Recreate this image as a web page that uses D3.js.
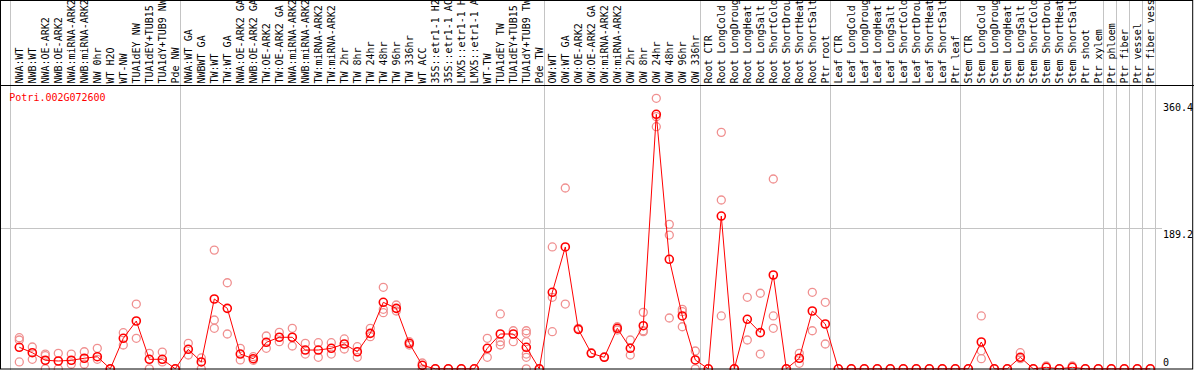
<!DOCTYPE html>
<html>
<head>
<meta charset="utf-8">
<script src="https://cdn.jsdelivr.net/npm/d3@7"></script>
<style>
    html, body { margin: 0; padding: 0; background: #fff; }
    svg { display: block; }
    text { font-family: 'DejaVu Sans Mono', monospace; font-size: 10px; }
</style>
</head>
<body>
<svg id="chart" width="1194" height="370"></svg>
<script>
'use strict';

var geneName = 'Potri.002G072600';

var categories = [
    'NWA:WT', 'NWB:WT', 'NWA:OE-ARK2', 'NWB:OE-ARK2', 'NWA:miRNA-ARK2', 'NWB:miRNA-ARK2',
    'NW 0hr', 'WT H2O', 'WT-NW', 'TUA1dEY NW', 'TUA1dEY+TUB15 NW', 'TUA1dY+TUB9 NW', 'Pde NW',
    'NWA:WT GA', 'NWBWT GA', 'TW:WT', 'TW:WT GA', 'NWA:OE-ARK2 GA', 'NWB:OE-ARK2 GA',
    'TW:OE-ARK2', 'TW:OE-ARK2 GA', 'NWA:miRNA-ARK2 GA', 'NWB:miRNA-ARK2 GA', 'TW:miRNA-ARK2',
    'TW:miRNA-ARK2 GA', 'TW 2hr', 'TW 8hr', 'TW 24hr', 'TW 48hr', 'TW 96hr', 'TW 336hr',
    'WT ACC', '35S::etr1-1 H2O', '35S::etr1-1 ACC', 'LMX5::etr1-1 H2O', 'LMX5::etr1-1 ACC',
    'WT-TW', 'TUA1dEY TW', 'TUA1dEY+TUB15 TW', 'TUA1dY+TUB9 TW', 'Pde TW',
    'OW:WT', 'OW:WT GA', 'OW:OE-ARK2', 'OW:OE-ARK2 GA', 'OW:miRNA-ARK2', 'OW:miRNA-ARK2 GA',
    'OW 2hr', 'OW 8hr', 'OW 24hr', 'OW 48hr', 'OW 96hr', 'OW 336hr',
    'Root CTR', 'Root LongCold', 'Root LongDrought', 'Root LongHeat', 'Root LongSalt',
    'Root ShortCold', 'Root ShortDrought', 'Root ShortHeat', 'Root ShortSalt', 'Ptr root',
    'Leaf CTR', 'Leaf LongCold', 'Leaf LongDrought', 'Leaf LongHeat', 'Leaf LongSalt',
    'Leaf ShortCold', 'Leaf ShortDrought', 'Leaf ShortHeat', 'Leaf ShortSalt', 'Ptr leaf',
    'Stem CTR', 'Stem LongCold', 'Stem LongDrought', 'Stem LongHeat', 'Stem LongSalt',
    'Stem ShortCold', 'Stem ShortDrought', 'Stem ShortHeat', 'Stem ShortSalt', 'Ptr shoot',
    'Ptr xylem', 'Ptr phloem', 'Ptr fiber', 'Ptr vessel', 'Ptr fiber vessel'
];

// last sample of each block, a grey separator follows it
var groupEnds = ['Pde NW', 'Pde TW', 'OW 336hr', 'Ptr root', 'Ptr leaf',
    'Ptr xylem', 'Ptr phloem', 'Ptr fiber', 'Ptr vessel', 'Ptr fiber vessel'];

var means = [
    29.0, 21.7, 11.5, 10.5, 11.5, 14.2, 16.3, 0, 41.1, 64.4, 12.8, 12.8, 0,
    26.3, 9.2, 94.1, 81.5, 19.9, 13.6, 35.7, 42.5, 42.5, 25.3, 25.3, 27.6, 33.4,
    23.0, 47.8, 89.6, 81.5, 34.4, 4.7, 0, 0, 0, 0, 27.6, 46.9, 46.9, 29.0, 0,
    103.1, 164.2, 53.2, 20.9, 15.5, 54.6, 27.6, 58.1, 343.0, 147.6, 71.2, 11.9,
    0, 205.9, 0, 66.7, 48.7, 126.4, 0, 14.2, 77.9, 60.4,
    0, 0, 0, 0, 0, 0, 0, 0, 0, 0,
    0, 36.1, 0, 0, 15.5, 0, 2.0, 0, 2.0, 0, 0,
    0, 0, 0, 0, 0
];

var replicates = [
    [41.9, 38.8, 9.2], [29.4, 12.8], [19.9, 17.7, 0], [20.9, 0], [19.9, 6.1], [23.0, 6.1],
    [27.6, 12.8], [0], [48.7, 32.1], [87.3, 41.1], [20.9, 0], [22.6, 9.2], [0],
    [34.4, 18.6], [14.6, 0], [160, 65.8, 54.6], [116, 46.9], [27.6, 11.9], [16.3, 11.5],
    [44.2, 27.6], [49.2, 36.5], [54.6, 30.7], [34.4, 19.9], [35.2, 15.5], [35.2, 19.9],
    [40.2, 26.7], [29.8, 15.5], [54.6, 43.3], [109.8, 80.2, 75.6], [86, 77.9], [36.5, 32.1],
    [7.8, 0], [0], [0], [0], [0], [41.1, 15.5], [73.9, 36.5, 32.1], [51.3, 36.5],
    [51.3, 47.8, 36.5, 19.9, 15.5, 0], [0],
    [164.2, 96.4, 50.0], [243.7, 87.3], [54.6], [21.7], [16.3], [56.7, 52.3], [38.8, 18.6],
    [76.1, 50.0, 51.3], [364.6, 326.3, 339.8], [194.7, 180.3, 68.5], [80.2, 77.0, 56.7],
    [24.0, 0],
    [0], [318.7, 227.5, 71.2], [0], [96.4, 38.8], [101.8, 19.9], [255.8, 71.2, 54.6], [0],
    [20.9, 7.4], [103.1, 51.3], [89.6, 33.4],
    [0], [0], [0], [0], [0], [0], [0], [0], [0], [0],
    [0], [71.2, 24.4, 13.6], [0], [0], [21.7, 13.6], [0], [3.8], [0], [3.8], [0], [0],
    [0], [0], [0], [0], [0]
];

var yTicks = [0, 189.2, 360.4];
var yGrid = [189.2];

var W = 1194;
var H = 370;
var labelBottom = 85.5;
var plotRight = 1162;

var svg = d3.select('#chart');

var x = d3.scaleBand()
    .domain(categories)
    .range([12.8, 12.8 + 13 * categories.length])
    .padding(0);

var y = d3.scaleLinear()
    .domain([0, 360.4])
    .range([368.8, 101.4]);

function cx(c) { return x(c) + x.bandwidth() / 2; }

// grey separators between sample blocks, running through the label strip too
var sepX = [cx(categories[0]) - 9].concat(groupEnds.map(function(c) { return cx(c) + 4.7; }));

svg.append('g').selectAll('line.sep')
    .data(sepX)
    .enter().append('line')
    .attr('x1', function(d) { return Math.round(d) + 0.5; })
    .attr('x2', function(d) { return Math.round(d) + 0.5; })
    .attr('y1', 0)
    .attr('y2', H)
    .attr('stroke', '#c4c4c4')
    .attr('stroke-width', 1);

svg.append('g').selectAll('line.grid')
    .data(yGrid)
    .enter().append('line')
    .attr('x1', 1)
    .attr('x2', plotRight)
    .attr('y1', function(d) { return Math.round(y(d)) + 0.5; })
    .attr('y2', function(d) { return Math.round(y(d)) + 0.5; })
    .attr('stroke', '#c4c4c4');

// sample names, read bottom to top
svg.append('g').selectAll('text.lab')
    .data(categories)
    .enter().append('text')
    .attr('transform', function(d) {
        return 'translate(' + (cx(d) + 3.6) + ',' + 83.5 + ')rotate(-90)';
    })
    .attr('fill', '#000')
    .text(function(d) { return d; });

svg.append('text')
    .attr('x', 9.3)
    .attr('y', 100.7)
    .attr('fill', '#ff0000')
    .text(geneName);

svg.append('g').selectAll('text.tick')
    .data(yTicks)
    .enter().append('text')
    .attr('x', 1163)
    .attr('y', function(d) { return d === 0 ? y(d) - 2.8 : y(d) + 9.3; })
    .attr('fill', '#000')
    .text(function(d) { return d; });

// replicate samples
var repPts = [];
categories.forEach(function(c, i) {
    replicates[i].forEach(function(v) { repPts.push({c: c, v: v}); });
});

svg.append('g').selectAll('circle.rep')
    .data(repPts)
    .enter().append('circle')
    .attr('cx', function(d) { return cx(d.c); })
    .attr('cy', function(d) { return y(d.v); })
    .attr('r', 4)
    .attr('fill', 'none')
    .attr('stroke', '#f09090')
    .attr('stroke-width', 1.3);

var meanPts = categories.map(function(c, i) { return {c: c, v: means[i]}; });

var line = d3.line()
    .x(function(d) { return cx(d.c); })
    .y(function(d) { return y(d.v); });

svg.append('path')
    .datum(meanPts)
    .attr('d', line)
    .attr('fill', 'none')
    .attr('stroke', '#ff0000')
    .attr('stroke-width', 1);

svg.append('g').selectAll('circle.mean')
    .data(meanPts)
    .enter().append('circle')
    .attr('cx', function(d) { return cx(d.c); })
    .attr('cy', function(d) { return y(d.v); })
    .attr('r', 4)
    .attr('fill', 'none')
    .attr('stroke', '#ff0000')
    .attr('stroke-width', 1.6);

// frame and the rule under the label strip
svg.append('line')
    .attr('x1', 0).attr('x2', W)
    .attr('y1', labelBottom).attr('y2', labelBottom)
    .attr('stroke', '#000');

svg.append('rect')
    .attr('x', 0.5)
    .attr('y', 0.5)
    .attr('width', 1192.2)
    .attr('height', 368.5)
    .attr('fill', 'none')
    .attr('stroke', '#000');
</script>
</body>
</html>
